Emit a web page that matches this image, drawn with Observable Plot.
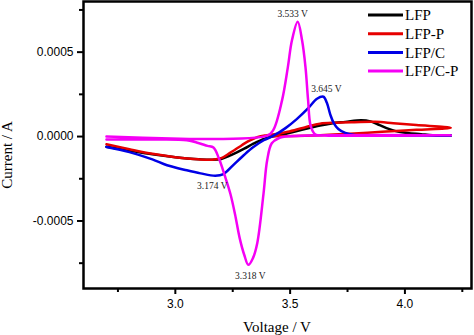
<!DOCTYPE html>
<html><head><meta charset="utf-8">
<script src="https://cdn.jsdelivr.net/npm/d3@7"></script>
<script src="https://cdn.jsdelivr.net/npm/@observablehq/plot@0.6"></script>
<style>body{margin:0;background:#fff}</style>
</head><body><div id="chart"></div>
<script>
// Series names and colours
const seriesNames = ["LFP", "LFP-P", "LFP/C", "LFP/C-P"];
const seriesColors = ["#000000", "#e60000", "#0000e6", "#f500f5"];

// LFP (black)
const lfpV = [2.70,2.80,2.90,3.00,3.10,3.16,3.20,3.24,3.30,3.34,3.39,3.45,3.49,3.53,3.574,3.63,3.68,3.74,3.81,3.85,3.89,3.92,3.96,4.01,4.07,4.12,4.20];
const lfpI = [-0.000060,-0.000083,-0.000105,-0.000122,-0.000134,-0.000138,-0.000133,-0.000112,-0.000072,-0.000042,-0.000012,0.000008,0.000019,0.000032,0.000048,0.000066,0.000078,0.000087,0.000097,0.000090,0.000068,0.000050,0.000032,0.000021,0.000014,0.000008,0.000006];

// LFP-P (red) : forward then return branch
const lfppV = [2.70,2.80,2.90,3.00,3.10,3.16,3.20,3.24,3.28,3.30,3.33,3.36,3.40,3.45,3.49,3.57,3.63,3.70,3.78,3.87,3.95,4.05,4.20,4.05,3.90,3.76,3.60,3.42];
const lfppI = [-0.000046,-0.000075,-0.000102,-0.000122,-0.000135,-0.000137,-0.000128,-0.000095,-0.000060,-0.000042,-0.000020,-0.000002,0.000008,0.000017,0.000028,0.000057,0.000076,0.000082,0.000085,0.000087,0.000079,0.000068,0.000052,0.000040,0.000028,0.000016,0.000006,0.000002];

// LFP/C (blue)
const lfpcV = [2.70,2.80,2.90,2.964,3.05,3.11,3.174,3.21,3.25,3.30,3.34,3.385,3.428,3.48,3.53,3.58,3.617,3.645,3.66,3.675,3.69,3.71,3.74,3.78,3.85,4.20];
const lfpcI = [-0.000062,-0.000092,-0.000135,-0.000170,-0.000200,-0.000218,-0.000232,-0.000222,-0.000172,-0.000108,-0.000062,-0.000022,0.000005,0.000050,0.000105,0.000170,0.000224,0.000236,0.000200,0.000130,0.000080,0.000045,0.000022,0.000010,0.000007,0.000006];

// LFP/C-P (magenta) : cathodic branch then anodic branch
const lfpcpV = [2.70,2.90,3.05,3.10,3.14,3.166,3.19,3.215,3.24,3.26,3.28,3.30,3.318,3.338,3.357,3.384,3.40,3.42,3.45,3.50,4.20,3.65,3.61,3.59,3.578,3.567,3.552,3.533,3.508,3.49,3.465,3.427,3.40,2.70];
const lfpcpI = [-0.000018,-0.000018,-0.000022,-0.000038,-0.000055,-0.000065,-0.000130,-0.000230,-0.000340,-0.000460,-0.000600,-0.000700,-0.000760,-0.000720,-0.000630,-0.000340,-0.000140,-0.000040,-0.000010,0.000002,0.000008,0.000006,0.000012,0.000060,0.000220,0.000410,0.000570,0.000680,0.000570,0.000410,0.000216,0.000040,0.000005,0.000000];

// Peak annotations
const annV = [3.533, 3.645, 3.174, 3.318];
const annI = [0.000680, 0.000236, -0.000232, -0.000760];
const annText = ["3.533 V", "3.645 V", "3.174 V", "3.318 V"];

// Ticks
const xMajorTicks = [3.0, 3.5, 4.0];
const xMinorTicks = [2.75, 3.25, 3.75, 4.25];
const yMajorTicks = [-0.0005, 0, 0.0005];
const yMinorTicks = [-0.00075, -0.00025, 0.00025, 0.00075];

const allV = [lfpV, lfppV, lfpcV, lfpcpV];
const allI = [lfpI, lfppI, lfpcI, lfpcpI];
const rows = [];
seriesNames.forEach((name, s) => allV[s].forEach((v, i) => rows.push({name, V: v, I: allI[s][i]})));
const ann = annText.map((t, i) => ({t, V: annV[i], I: annI[i]}));

const serif = "'Liberation Serif', 'Times New Roman', serif";
const annStyle = {x: "V", y: "I", text: "t", fontFamily: serif, fontSize: 9.5, fill: "#222"};

const chart = Plot.plot({
  width: 474, height: 335,
  marginLeft: 83, marginRight: 3, marginTop: 1, marginBottom: 47,
  style: {fontFamily: "'Liberation Sans', Arial, sans-serif", fontSize: "12px", background: "#fff", color: "#000"},
  x: {domain: [2.6, 4.29]},
  y: {domain: [-0.0009, 0.0008]},
  color: {domain: seriesNames, range: seriesColors},
  marks: [
    Plot.axisX({ticks: xMajorTicks, tickSize: 6, tickPadding: 5, strokeWidth: 2, tickFormat: d => d.toFixed(1), label: null}),
    Plot.axisX({ticks: xMinorTicks, tickSize: 4, strokeWidth: 2, tickFormat: () => "", label: null}),
    Plot.axisY({ticks: yMajorTicks, tickSize: 6, tickPadding: 4, strokeWidth: 2, tickFormat: d => d.toFixed(4), label: null}),
    Plot.axisY({ticks: yMinorTicks, tickSize: 4, strokeWidth: 2, tickFormat: () => "", label: null}),
    Plot.line(rows, {x: "V", y: "I", z: "name", stroke: "name", strokeWidth: 2.5, curve: "catmull-rom"}),
    Plot.text([ann[0]], {...annStyle, dx: -5, dy: -8}),
    Plot.text([ann[1]], {...annStyle, dx: 3, dy: -8}),
    Plot.text([ann[2]], {...annStyle, dx: -3, dy: 10}),
    Plot.text([ann[3]], {...annStyle, dx: 2, dy: 11}),
    Plot.frame({strokeWidth: 2.5})
  ]
});
document.getElementById("chart").appendChild(chart);

// Axis titles and legend
const svg = d3.select(chart);
const xs = chart.scale("x").range;
svg.append("text").attr("x", (xs[0] + xs[1]) / 2).attr("y", 332)
  .attr("text-anchor", "middle").attr("font-family", serif).attr("font-size", 15).attr("fill", "#000")
  .text("Voltage / V");
svg.append("text").attr("transform", `translate(12,155) rotate(-90)`)
  .attr("text-anchor", "middle").attr("font-family", serif).attr("font-size", 15).attr("fill", "#000")
  .text("Current / A");
const leg = svg.append("g").attr("transform", "translate(368,15)");
seriesNames.forEach((n, i) => {
  const g = leg.append("g").attr("transform", `translate(0,${i * 18.7})`);
  g.append("line").attr("x1", 0).attr("x2", 35).attr("y1", 0).attr("y2", 0)
    .attr("stroke", seriesColors[i]).attr("stroke-width", 3);
  g.append("text").attr("x", 37).attr("y", 0).attr("dy", "0.35em").attr("text-anchor", "start")
    .attr("font-family", serif).attr("font-size", 15).attr("fill", "#000").text(n);
});
</script>
</body></html>
